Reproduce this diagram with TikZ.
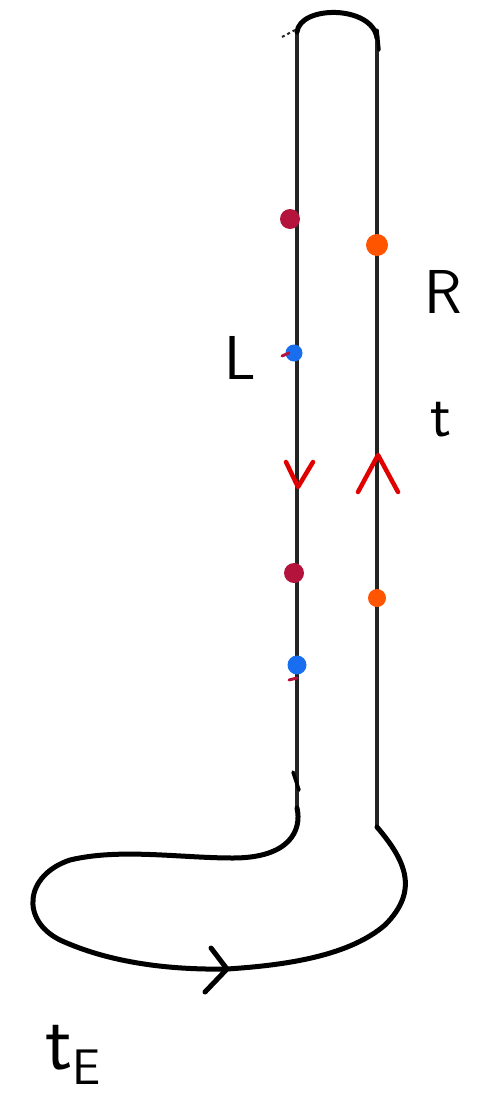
\documentclass[tikz,border=0pt]{standalone}
\usetikzlibrary{calc}
\definecolor{crim}{RGB}{180,20,60}
\definecolor{dblue}{RGB}{25,110,240}
\definecolor{dorange}{RGB}{255,85,0}
\definecolor{ared}{RGB}{225,0,0}
\definecolor{ink}{RGB}{35,35,35}
\begin{document}
\begin{tikzpicture}[x=1pt,y=-1pt,
  wire/.style={draw=ink,line width=4pt},
  loopline/.style={draw=black,line width=5pt,line cap=round,line join=round},
  dot/.style={ellipse,inner sep=0pt,minimum width=#1,minimum height=#1},
  redarr/.style={draw=ared,line width=4.5pt,line cap=round,line join=round},
  lab/.style={font=\fontsize{62}{64}\selectfont\sffamily,inner sep=0pt}]
\useasboundingbox (0,0) rectangle (485,1106);
% coordinates
\coordinate (lt) at (297,32);
\coordinate (lb) at (297,808);
\coordinate (rt) at (377,38);
\coordinate (rb) at (377,827);
% vertical wires
\draw[wire] (lt) -- (lb);
\draw[wire] (rt) -- (rb);
% top arc
\draw[loopline] (lt) .. controls (300,5) and (372,5) .. (rt);
\draw[loopline,line width=3.5pt] (377,30) -- (379,50);
\draw[draw=ink,line width=2pt,dashed] (282,37) -- (295,30);
% bottom loop
\coordinate (arr) at (227,969);
\draw[loopline] (lb) .. controls (302,830) and (290,858) .. (233,858)
  .. controls (180,858) and (120,848) .. (70,860)
  .. controls (25,875) and (20,920) .. (60,940)
  .. controls (110,963) and (170,970) .. (arr)
  .. controls (290,965) and (350,955) .. (385,925)
  .. controls (420,890) and (405,860) .. (rb);
\draw[loopline] (211,948) -- (arr) -- (205,992);
\draw[loopline,line width=3.5pt] (293,772) -- (299,790);
% red arrows
\coordinate (la) at (298,487);
\draw[redarr] (286,462) -- (la) -- (313,462);
\coordinate (ra) at (378,455);
\draw[redarr] (358,492) -- (ra) -- (398,492);
% dots
\node[circle,inner sep=0pt,minimum size=20pt,fill=crim] (c1) at (290,219) {};
\node[circle,inner sep=0pt,minimum size=17pt,fill=dblue] (b1) at (294,353) {};
\draw[crim,line width=3pt,line cap=round] (282,356) -- (289,353);
\node[circle,inner sep=0pt,minimum size=20pt,fill=crim] (c2) at (294,573) {};
\node[circle,inner sep=0pt,minimum size=19pt,fill=dblue] (b2) at (297,665) {};
\draw[crim,line width=3pt,line cap=round] (289,680) -- (297,678);
\node[circle,inner sep=0pt,minimum size=22pt,fill=dorange] (o1) at (377,245) {};
\node[circle,inner sep=0pt,minimum size=18pt,fill=dorange] (o2) at (377,598) {};
% labels
\node[lab] (R) at (443,292) {R};
\node[lab] (L) at (240,358) {L};
\node[lab] (t) at (441,420) {t};
\node[lab,font=\fontsize{80}{82}\selectfont\sffamily,anchor=west] (tE) at (45,1055) {t\raisebox{-0.45ex}{\fontsize{50}{52}\selectfont E}};
\end{tikzpicture}
\end{document}
